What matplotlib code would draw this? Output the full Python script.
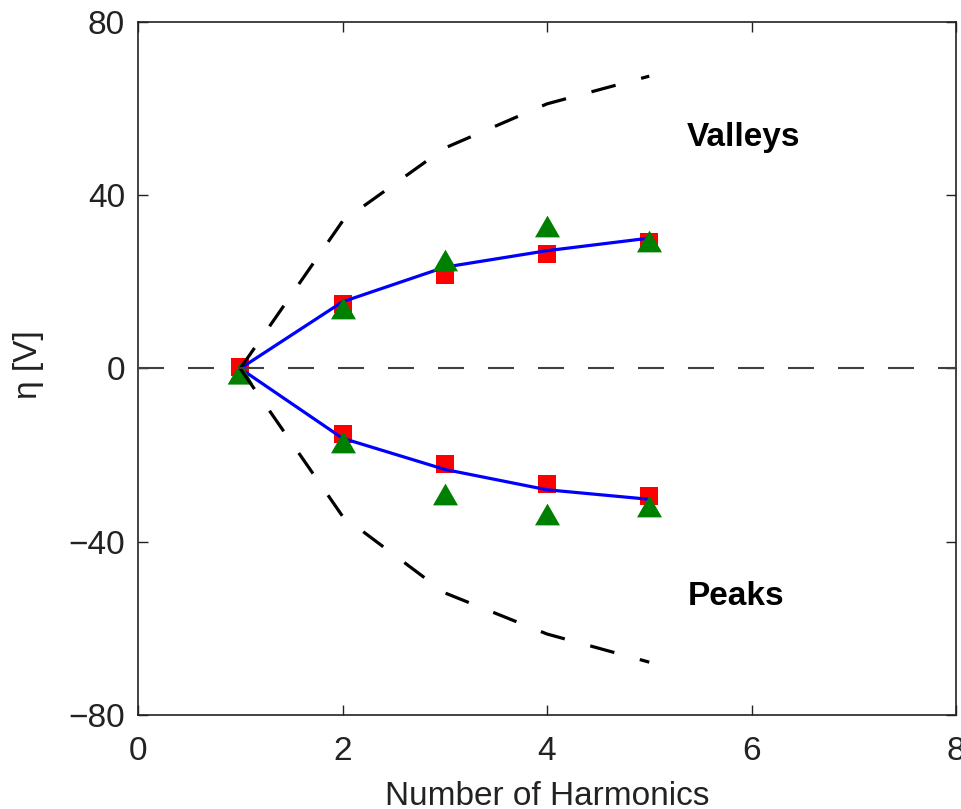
import matplotlib
matplotlib.use("Agg")
import matplotlib.pyplot as plt

# ---- data ----
harmonics = [1, 2, 3, 4, 5]
valley_fit = [0, 15.4, 23.4, 27.2, 30.1]
peak_fit = [0, -16.1, -23.3, -28.0, -30.2]
valley_sq = [0.4, 14.9, 21.7, 26.4, 29.3]
peak_sq = [0.4, -15.1, -22.0, -26.7, -29.4]
valley_tri = [-1.0, 13.9, 25.0, 33.0, 29.5]
peak_tri = [-1.0, -16.9, -29.0, -33.6, -31.7]
bound_upper = [0, 34.0, 50.9, 61.1, 67.5]
bound_lower = [0, -34.1, -51.8, -61.3, -67.8]
zero_x = [0, 8]
zero_y = [0, 0]
xticks = [0, 2, 4, 6, 8]
yticks = [-80, -40, 0, 40, 80]

plt.rcParams['font.family'] = ['Liberation Sans', 'DejaVu Sans']
plt.rcParams['lines.scale_dashes'] = False

fig = plt.figure(figsize=(9.61, 8.09), dpi=100)
ax = fig.add_axes([0.1436, 0.1162, 0.8512, 0.8566])

tri = [(0, 1), (-1.15, -1), (1.15, -1)]

ax.plot(harmonics, valley_sq, ls='none', marker='s', ms=12.7, color='#ff0000', mew=0, zorder=2)
ax.plot(harmonics, peak_sq, ls='none', marker='s', ms=12.7, color='#ff0000', mew=0, zorder=2)
ax.plot(harmonics, valley_fit, color='#0000ff', lw=2.3, zorder=3)
ax.plot(harmonics, peak_fit, color='#0000ff', lw=2.3, zorder=3)
ax.plot(harmonics, valley_tri, ls='none', marker=tri, ms=18, color='#008000', mew=0, zorder=4)
ax.plot(harmonics, peak_tri, ls='none', marker=tri, ms=18, color='#008000', mew=0, zorder=4)
ax.plot(harmonics, bound_upper, color='black', lw=2.3, dashes=(18, 19), zorder=5)
ax.plot(harmonics, bound_lower, color='black', lw=2.3, dashes=(18, 19), zorder=5)
ax.plot(zero_x, zero_y, color='#404040', lw=1.5, dashes=(18.7, 17.3), zorder=6)

ax.text(5.37, 51.3, 'Valleys', fontsize=24, fontweight='bold', va='baseline', ha='left')
ax.text(5.38, -54.6, 'Peaks', fontsize=24, fontweight='bold', va='baseline', ha='left')

ax.set_xlim(0, 8)
ax.set_ylim(-80, 80)
ax.set_xticks(xticks)
ax.set_yticks(yticks)
ax.tick_params(axis='both', direction='in', length=7, width=1.0, labelsize=24,
               top=True, right=True, colors='#222222')
ax.tick_params(axis='x', pad=15)
ax.tick_params(axis='y', pad=9.4)
for s in ax.spines.values():
    s.set_linewidth(1.2)
    s.set_color('#222222')

ax.set_xlabel('Number of Harmonics', fontsize=24, color='#222222', labelpad=10)
ax.set_ylabel('η [V]', fontsize=24, color='#222222')
ax.yaxis.set_label_coords(-0.1333, 0.505)
ax.yaxis.label.set_va('center')

fig.savefig('out.png', dpi=100)
